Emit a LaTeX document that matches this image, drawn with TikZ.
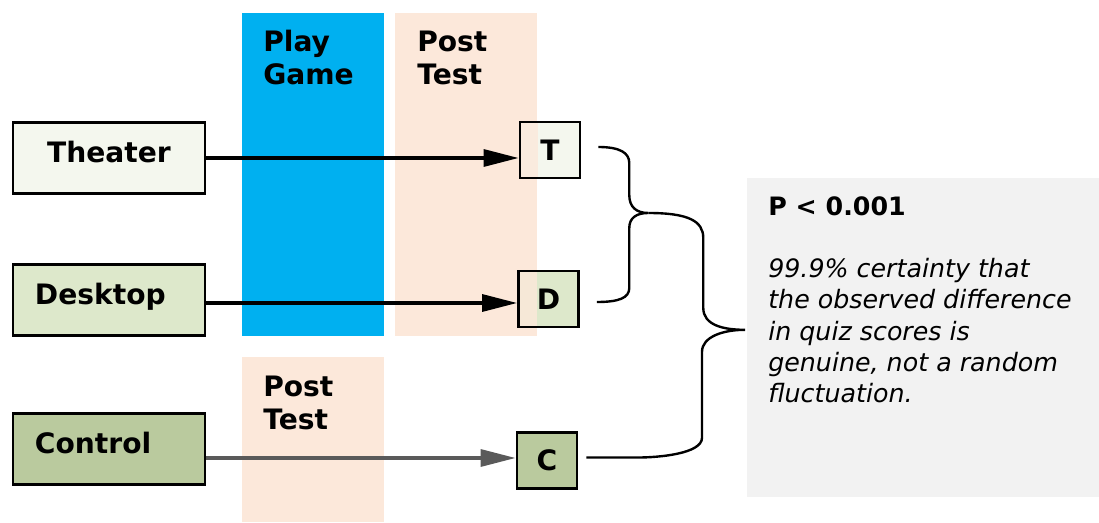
\documentclass[tikz,border=0pt]{standalone}
\usepackage{fontspec}
\setmainfont{DejaVu Sans}
\usepackage{tikz}
\usetikzlibrary{arrows.meta,calc}
\definecolor{playblue}{HTML}{00B0F0}
\definecolor{postpeach}{HTML}{FCE8DA}
\definecolor{theatergreen}{HTML}{F4F7EE}
\definecolor{desktopgreen}{HTML}{DDE8CB}
\definecolor{controlgreen}{HTML}{BACA9E}
\definecolor{notegray}{HTML}{F2F2F2}
\definecolor{arrowgray}{HTML}{5A5A5A}
\tikzset{
    group/.style={rectangle,draw,line width=1.8pt,minimum width=4.8cm,minimum height=1.775cm,
        text height=15pt,text depth=8pt,font=\bfseries\fontsize{20}{24}\selectfont},
    result/.style={rectangle,draw,line width=1.8pt,minimum width=1.5cm,minimum height=1.4cm,
        font=\bfseries\fontsize{20}{24}\selectfont},
    tinted/.style={path picture={\fill[postpeach!80!#1]
        (path picture bounding box.south west) rectangle ($(path picture bounding box.north)+(-12,0)$);}},
    header/.style={anchor=base west,align=left,inner sep=0pt,font=\bfseries\fontsize{20}{23.5}\selectfont},
    edge/.style={-{Triangle[length=25pt,width=12pt]},line width=2.6pt},
    brace/.style={line width=1.7pt}
    }

\begin{document}
\begin{tikzpicture}[x=0.025cm,y=-0.025cm]
        \useasboundingbox (0,0) rectangle (1099,523);

        % bands
        \fill[playblue] (242,13) rectangle (384,336);
        \fill[postpeach] (395,13) rectangle (537,336);
        \fill[postpeach] (242,357) rectangle (384,522);
        \node[header] (play) at (263,85) {Play\\Game};
        \node[header] (post) at (417,85) {Post\\Test};
        \node[header] (postc) at (263,430) {Post\\Test};

        % groups
        \node[group, fill=theatergreen] (theater) at (109,158) {Theater};
        \node[group, fill=desktopgreen, text width=3.7cm, align=left] (desktop) at (109,300) {Desktop};
        \node[group, fill=controlgreen, text width=3.7cm, align=left] (control) at (109,449) {Control};

        % results
        \node[result, fill=theatergreen, tinted=theatergreen] (T) at (550,150) {T};
        \node[result, fill=desktopgreen, tinted=desktopgreen] (D) at (548.5,299) {D};
        \node[result, fill=controlgreen] (C) at (547,460.5) {C};

        % edges
        \draw[edge] (theater.east |- 0,158) -- (T.west |- 0,158);
        \draw[edge] (desktop.east |- 0,303) -- (D.west |- 0,303);
        \draw[edge, draw=arrowgray, fill=arrowgray] (control.east |- 0,458) -- (C.west |- 0,458);

        % note
        \node[rectangle, fill=notegray, minimum width=8.8cm, minimum height=7.975cm, anchor=north west] (note) at (747,178) {};
        \node[anchor=north west, align=left, inner sep=0pt, font=\fontsize{18}{22.3}\selectfont] (notetext) at ($(note.north west)+(21,18)$)
            {\textbf{P < 0.001}\\[22pt]
             \textit{99.9\% certainty that}\\
             \textit{the observed difference}\\
             \textit{in quiz scores is}\\
             \textit{genuine, not a random}\\
             \textit{fluctuation.}};

        % braces
        \coordinate (tdtip) at ($(T.east)+(67,63)$);
        \draw[brace] ($(T.east)+(17,-3)$) .. controls +(22,0) and +(0,-10) .. ++(31,16) -- ++(0,32)
            .. controls +(0,12) and +(-12,0) .. (tdtip)
            .. controls +(-12,0) and +(0,-10) .. ($(tdtip)+(-19,15)$) -- ++(0,60)
            .. controls +(0,10) and +(22,0) .. ($(D.east)+(17,3)$);
        \coordinate (ctip) at ($(note.west)+(-2,-8)$);
        \draw[brace] (tdtip) .. controls +(40,0) and +(0,-17) .. ++(55,25) -- ++(0,70)
            .. controls +(0,17) and +(-22,0) .. (ctip)
            .. controls +(-22,0) and +(0,-15) .. ($(ctip)+(-43,22)$) -- ++(0,86)
            .. controls +(0,16) and +(20,0) .. ($(C.east)+(60,-3)$) -- ($(C.east)+(8,-3)$);
    \end{tikzpicture}
\end{document}
